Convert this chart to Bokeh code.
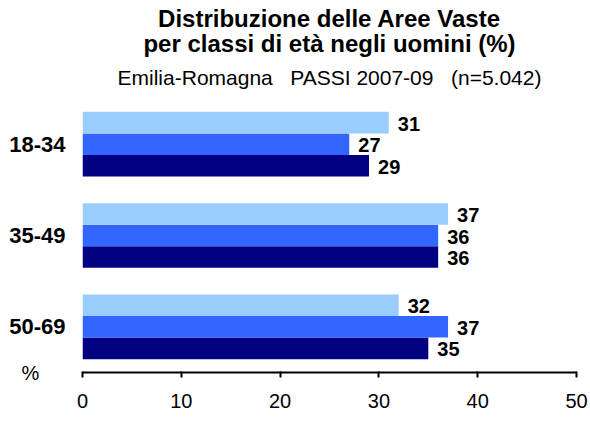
from bokeh.plotting import figure
from bokeh.models import (ColumnDataSource, FactorRange, Range1d, FixedTicker,
                          Title, Legend, LegendItem)
from bokeh.transform import dodge
from bokeh.core.properties import value
from bokeh.embed import file_html
from bokeh.resources import INLINE

# ---- data ----
age_classes = ["18-34", "35-49", "50-69"]
romagna = [29, 36, 35]
emilia_centro = [27, 36, 37]
emilia_nord = [31, 37, 32]
series_names = ["Romagna", "Emilia Centro", "Emilia Nord"]
x_ticks = [0, 10, 20, 30, 40, 50]
unit_label = "%"

title_1 = "Distribuzione delle Aree Vaste"
title_2 = "per classi di età negli uomini (%)"
subtitle = "Emilia-Romagna\u00a0\u00a0 PASSI 2007-09\u00a0\u00a0 (n=5.042)"

# ---- styles ----
FONT = "Liberation Sans"
colors = ["#000080", "#3366FF", "#99CCFF"]
BAR_H = 0.236

src = ColumnDataSource(dict(
    cat=age_classes,
    romagna=romagna, centro=emilia_centro, nord=emilia_nord,
    t_romagna=[str(v) for v in romagna],
    t_centro=[str(v) for v in emilia_centro],
    t_nord=[str(v) for v in emilia_nord],
))

p = figure(frame_width=494, frame_height=274,
           y_range=FactorRange(factors=age_classes[::-1], range_padding=0),
           x_range=Range1d(0, 50),
           output_backend="svg", toolbar_location=None,
           min_border_left=82, min_border_right=14, min_border_bottom=66,
           min_border_top=98)
p.title = None

fields = ["romagna", "centro", "nord"]
offsets = [-BAR_H, 0.0, BAR_H]
renderers = []
for f, off, c in zip(fields, offsets, colors):
    r = p.hbar(y=dodge("cat", off, range=p.y_range), right=f, left=0,
               height=BAR_H, source=src, fill_color=c, line_color=None)
    renderers.append(r)
    p.text(x=f, y=dodge("cat", off, range=p.y_range), text="t_" + f,
           source=src, x_offset=9, y_offset=1, text_align="left",
           text_baseline="middle", text_font=value(FONT),
           text_font_size="20px", text_font_style="bold", text_color="black")

# axes
p.xaxis.ticker = FixedTicker(ticks=x_ticks)
p.xaxis.axis_line_width = 2
p.xaxis.axis_line_color = "black"
p.xaxis.major_tick_line_width = 2
p.xaxis.major_tick_in = 1
p.xaxis.major_tick_out = 5
p.xaxis.minor_tick_line_color = None
p.xaxis.major_label_text_font = FONT
p.xaxis.major_label_text_font_size = "20px"
p.xaxis.major_label_text_color = "black"
p.xaxis.major_label_standoff = 16

p.yaxis.axis_line_color = None
p.yaxis.major_tick_line_color = None
p.yaxis.minor_tick_line_color = None
p.yaxis.major_tick_out = 0
p.yaxis.major_label_text_font = FONT
p.yaxis.major_label_text_font_size = "22px"
p.yaxis.major_label_text_font_style = "bold"
p.yaxis.major_label_text_color = "black"
p.yaxis.major_label_standoff = 17

# unit label "%" as horizontal axis label at the start (bottom) of the y axis
p.yaxis.axis_label = unit_label
p.yaxis.axis_label_orientation = "horizontal"
p.yaxis.axis_label_align = "start"
p.yaxis.axis_label_standoff = -33
p.yaxis.axis_label_text_font = FONT
p.yaxis.axis_label_text_font_size = "20px"
p.yaxis.axis_label_text_font_style = "normal"
p.yaxis.axis_label_text_color = "black"

p.xgrid.grid_line_color = None
p.ygrid.grid_line_color = None
p.outline_line_color = None

# legend (in the panel below the x axis)
legend = Legend(items=[LegendItem(label=n, renderers=[r]) for n, r in zip(series_names, renderers)],
                orientation="horizontal", location="top_left",
                glyph_width=14, glyph_height=14, label_standoff=6, spacing=29,
                label_text_font=FONT, label_text_font_size="21px",
                label_text_font_style="bold", label_text_color="black",
                border_line_color=None, background_fill_alpha=0,
                padding=0, margin=2)
p.add_layout(legend, "below")

# titles (first added is closest to plot)
p.add_layout(Title(text=subtitle, align="center", text_font=FONT,
                   text_font_size="21px", text_font_style="normal",
                   text_color="black", standoff=20), "above")
p.add_layout(Title(text=title_2, align="center", text_font=FONT,
                   text_font_size="24px", text_font_style="bold",
                   text_color="black", standoff=-7), "above")
p.add_layout(Title(text=title_1, align="center", text_font=FONT,
                   text_font_size="24px", text_font_style="bold",
                   text_color="black", standoff=0), "above")

open("out.html", "w").write(file_html(p, INLINE))
